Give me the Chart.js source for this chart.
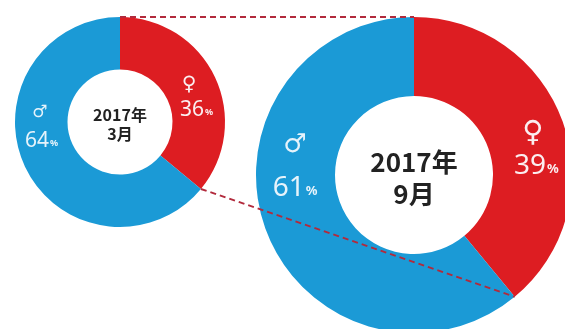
<!DOCTYPE html>
<html>
<head>
<meta charset="utf-8">
<script src="https://cdn.jsdelivr.net/npm/chart.js@4.4.1/dist/chart.umd.min.js"></script>
<style>
  html, body { margin: 0; padding: 0; background: #fff; width: 565px; height: 329px; overflow: hidden; }
  canvas { position: absolute; left: 0; top: 0; }
</style>
</head>
<body>
<canvas id="march" width="565" height="329"></canvas>
<canvas id="sept" width="572" height="333"></canvas>
<script>
// 男女比（2017年3月 → 2017年9月）
const SEXES = ['♀', '♂'];
const MARCH = [36, 64];
const SEPT = [39, 61];
const MARCH_TITLE = ['2017年', '3月'];
const SEPT_TITLE = ['2017年', '9月'];

const RED = '#dd1d22', BLUE = '#1b9ad6', LINK = '#b22a3c';
const LABEL_INK = ['#fbeef0', '#e6f3fb'];
const NUM_FONT = "'Noto Sans', 'Open Sans', sans-serif";
const JP_FONT = "'Noto Sans CJK JP', sans-serif";

if (typeof Chart !== 'undefined') Chart.defaults.animation = false;

// Label layout per donut, as fractions of the outer radius.
// sym / pct: [dx, dy] for each slice; title: dy of the two lines.
const MARCH_LAYOUT = {
  sym: [[0.657, -0.352], [-0.762, -0.086]],
  pct: [[0.729, -0.114], [-0.748, 0.18]],
  symSize: [20, 17], pctSize: 21, titleSize: 16, title: [-0.067, 0.114],
};
const SEPT_LAYOUT = {
  sym: [[0.753, -0.266], [-0.753, -0.19]],
  pct: [[0.775, -0.057], [-0.753, 0.082]],
  symSize: [29, 26], pctSize: 28, titleSize: 26, title: [-0.082, 0.12],
};

function drawLabels(chart, values, title, lay) {
  const ctx = chart.ctx;
  const arc = chart.getDatasetMeta(0).data[0];
  const { x, y, outerRadius: r } = arc;
  ctx.save();
  ctx.textBaseline = 'middle';
  ctx.textAlign = 'center';
  // 中央の年月
  ctx.fillStyle = '#222';
  ctx.font = `bold ${lay.titleSize}px ${JP_FONT}`;
  ctx.fillText(title[0], x, y + lay.title[0] * r);
  ctx.fillText(title[1], x, y + lay.title[1] * r);
  values.forEach((v, i) => {
    ctx.fillStyle = LABEL_INK[i];
    ctx.textAlign = 'center';
    ctx.font = `${lay.symSize[i]}px 'DejaVu Sans', sans-serif`;
    ctx.fillText(SEXES[i], x + lay.sym[i][0] * r, y + lay.sym[i][1] * r);
    // 数字 + 小さい「%」
    const big = `${lay.pctSize}px ${NUM_FONT}`;
    const small = `bold ${Math.round(lay.pctSize * 0.45)}px ${NUM_FONT}`;
    ctx.font = big;
    const wNum = ctx.measureText(String(v)).width;
    ctx.font = small;
    const wPct = ctx.measureText('%').width;
    const left = x + lay.pct[i][0] * r - (wNum + wPct + 1) / 2;
    const cy = y + lay.pct[i][1] * r;
    ctx.textAlign = 'left';
    ctx.font = big;
    ctx.fillText(String(v), left, cy);
    ctx.font = small;
    ctx.fillText('%', left + wNum + 1, cy + lay.pctSize * 0.12);
  });
  ctx.restore();
}

function donut(canvas, values, title, lay, padding, extra) {
  return new Chart(canvas, {
    type: 'doughnut',
    data: {
      labels: SEXES,
      datasets: [{ data: values, backgroundColor: [RED, BLUE], borderWidth: 0, hoverOffset: 0 }],
    },
    options: {
      responsive: false, maintainAspectRatio: false, cutout: '50%',
      layout: { padding },
      plugins: { legend: { display: false }, tooltip: { enabled: false } },
      events: [],
    },
    plugins: [{
      id: 'labels',
      afterDatasetsDraw(chart) {
        if (extra) extra(chart);
        drawLabels(chart, values, title, lay);
      },
    }],
  });
}

const march = donut(document.getElementById('march'), MARCH, MARCH_TITLE, MARCH_LAYOUT,
  { left: 15, top: 17, right: 340, bottom: 102 });

// 拡大線：両ドーナツの♀スライスの始点と終点を結ぶ破線
function links(chart) {
  const a = march.getDatasetMeta(0).data[0];
  const b = chart.getDatasetMeta(0).data[0];
  const pt = (arc, ang) => [arc.x + arc.outerRadius * Math.cos(ang), arc.y + arc.outerRadius * Math.sin(ang)];
  const ctx = chart.ctx;
  ctx.save();
  ctx.strokeStyle = LINK;
  ctx.lineWidth = 2;
  ctx.setLineDash([6, 4]);
  [['startAngle'], ['endAngle']].forEach(([k]) => {
    const p = pt(a, a[k]), q = pt(b, b[k]);
    ctx.beginPath();
    ctx.moveTo(p[0], p[1]);
    ctx.lineTo(q[0], q[1]);
    ctx.stroke();
  });
  ctx.restore();
}

donut(document.getElementById('sept'), SEPT, SEPT_TITLE, SEPT_LAYOUT,
  { left: 256, top: 17, right: 0, bottom: 0 }, links);
</script>
</body>
</html>
